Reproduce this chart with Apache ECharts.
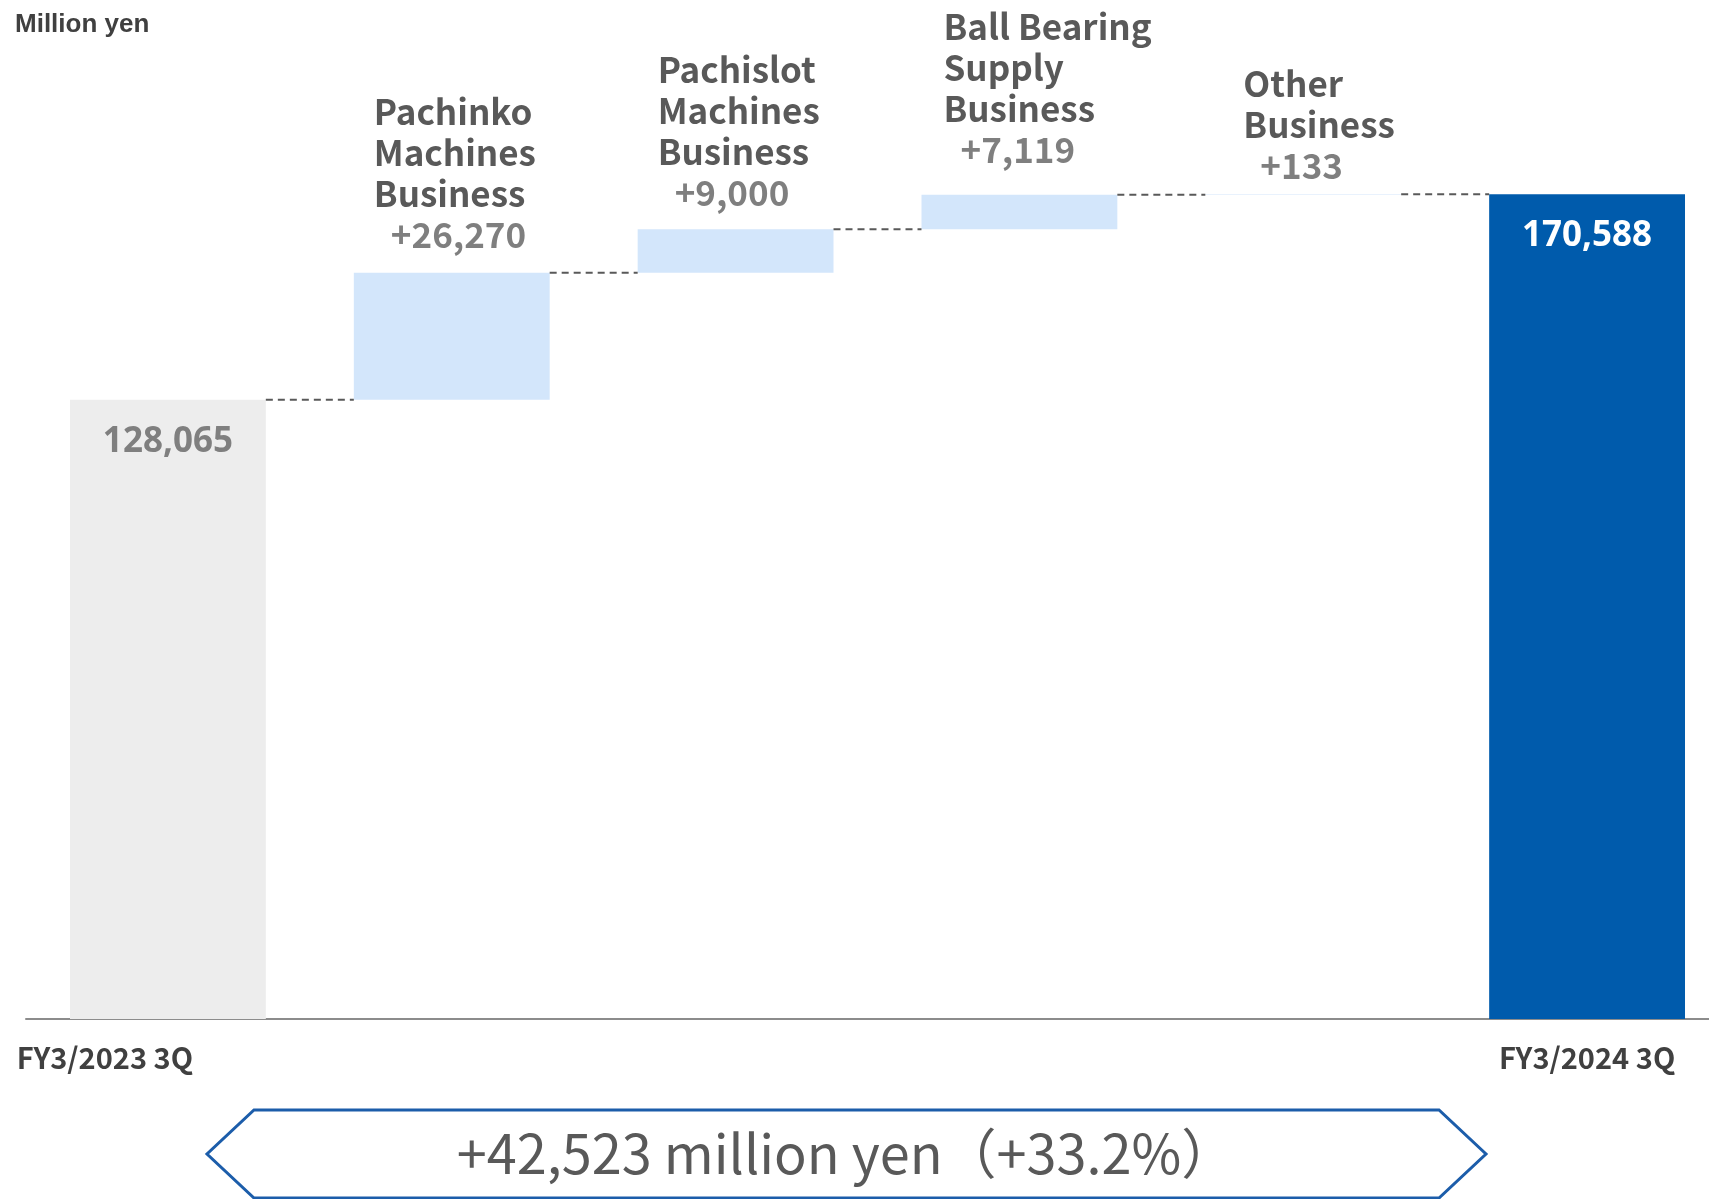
<!DOCTYPE html>
<html>
<head>
<meta charset="utf-8">
<title>Net sales bridge</title>
<script src="https://cdn.jsdelivr.net/npm/echarts@6/dist/echarts.min.js"></script>
<style>
  html, body { margin: 0; padding: 0; background: #ffffff; }
  #chart { width: 1709px; height: 1199px; }
</style>
</head>
<body>
<div id="chart"></div>
<script>
// Categories shown along the bridge (line breaks are part of the labels)
const categories = [
  'FY3/2023 3Q',
  'Pachinko\nMachines\nBusiness',
  'Pachislot\nMachines\nBusiness',
  'Ball Bearing\nSupply\nBusiness',
  'Other\nBusiness',
  'FY3/2024 3Q'
];
// Million yen
const startTotal = 128065;
const segmentChanges = [26270, 9000, 7119, 133];
const endTotal = 170588;

// Running levels: invisible base under each change bar
const baseValues = [0];
const levelsAfter = [startTotal];
let running = startTotal;
segmentChanges.forEach(function (d) {
  baseValues.push(running);
  running += d;
  levelsAfter.push(running);
});
baseValues.push(0);

const barValues = [startTotal].concat(segmentChanges, [endTotal]);
const fmt = function (v) { return v.toLocaleString('en-US'); };

const COLORS = {
  start: '#EDEDED',
  change: '#D3E6FB',
  end: '#005BAC'
};

const BAR_RATIO = 0.69;

// where each change label block sits relative to its bar's top-left corner
const changeLabelAnchor = {
  1: [20, -18],
  2: [20, -16],
  3: [22, -25],
  4: [38, -8]
};

const chart = echarts.init(document.getElementById('chart'), null, { renderer: 'canvas' });

const totalLabel = {
  show: true,
  position: 'insideTop',
  distance: 21,
  align: 'center',
  verticalAlign: 'top',
  fontFamily: 'Noto Sans',
  fontWeight: 'bold',
  fontSize: 35,
  lineHeight: 42
};

const barData = barValues.map(function (v, i) {
  const last = barValues.length - 1;
  if (i === 0) {
    return { value: v, itemStyle: { color: COLORS.start },
      label: Object.assign({}, totalLabel, { color: '#7F7F7F' }) };
  }
  if (i === last) {
    return { value: v, itemStyle: { color: COLORS.end },
      label: Object.assign({}, totalLabel, { color: '#FFFFFF' }) };
  }
  return {
    value: v,
    itemStyle: { color: COLORS.change },
    label: { position: changeLabelAnchor[i] }
  };
});

const changeAbs = endTotal - startTotal;
const changePct = (changeAbs / startTotal * 100).toFixed(1);

chart.setOption({
  animation: false,
  backgroundColor: '#ffffff',
  grid: { left: 26, right: -20, top: 52, bottom: 180, containLabel: false, outerBoundsMode: 'none' },
  xAxis: {
    type: 'category',
    data: categories,
    axisTick: { show: false },
    axisLine: { show: true, lineStyle: { color: '#8C8C8C', width: 2 } },
    axisLabel: {
      interval: 0,
      margin: 24,
      formatter: function (value, idx) {
        if (idx === 0) return '{first|' + value + '}';
        if (idx === categories.length - 1) return '{last|' + value + '}';
        return '';
      },
      rich: {
        first: { fontFamily: 'Noto Sans CJK JP', fontWeight: 'bold', fontSize: 29, color: '#404040', padding: [0, 126, 0, 0] },
        last: { fontFamily: 'Noto Sans CJK JP', fontWeight: 'bold', fontSize: 29, color: '#404040' }
      }
    }
  },
  yAxis: { type: 'value', min: 0, max: 200000, show: false, splitLine: { show: false } },
  series: [
    {
      name: 'base',
      type: 'bar',
      stack: 'bridge',
      barWidth: (BAR_RATIO * 100) + '%',
      itemStyle: { color: 'transparent' },
      emphasis: { disabled: true },
      data: baseValues
    },
    {
      name: 'amount',
      type: 'bar',
      stack: 'bridge',
      barWidth: (BAR_RATIO * 100) + '%',
      emphasis: { disabled: true },
      label: {
        show: true,
        align: 'left',
        verticalAlign: 'bottom',
        formatter: function (p) {
          const i = p.dataIndex;
          if (i === 0 || i === barValues.length - 1) return fmt(p.value);
          return '{name|' + categories[i] + '}\n{val|+' + fmt(p.value) + '}';
        },
        rich: {
          name: { fontFamily: 'Noto Sans CJK JP', fontWeight: 'bold', fontSize: 35, lineHeight: 41, color: '#595959' },
          val: { fontFamily: 'Noto Sans CJK JP', fontWeight: 'bold', fontSize: 35, lineHeight: 41, color: '#7F7F7F', padding: [0, 0, 0, 17] }
        }
      },
      data: barData
    },
    {
      // dashed connectors between neighbouring bars
      name: 'connector',
      type: 'custom',
      silent: true,
      z: 5,
      data: levelsAfter.map(function (lv, i) { return [i, lv]; }),
      renderItem: function (params, api) {
        const p = api.coord([api.value(0), api.value(1)]);
        const w = api.size([1, 0])[0];
        const half = w * BAR_RATIO / 2;
        return {
          type: 'line',
          shape: { x1: p[0] + half, y1: p[1], x2: p[0] + w - half, y2: p[1] },
          style: { stroke: '#595959', lineWidth: 2, lineDash: [7, 5] }
        };
      }
    }
  ],
  graphic: [
    {
      type: 'text',
      left: 15,
      top: 12,
      style: { text: 'Million yen', fontFamily: 'Liberation Sans', fontWeight: 'bold', fontSize: 26, fill: '#404040' }
    },
    {
      type: 'polygon',
      shape: { points: [[254, 1110], [1439, 1110], [1486, 1154], [1439, 1198], [254, 1198], [207, 1154]] },
      style: { fill: '#ffffff', stroke: '#1C5DAA', lineWidth: 3 }
    },
    {
      type: 'text',
      x: 846,
      y: 1153,
      style: {
        text: '+' + fmt(changeAbs) + ' million yen（+' + changePct + '%）',
        fontFamily: 'Noto Sans CJK JP',
        fontSize: 54,
        fill: '#595959',
        align: 'center',
        verticalAlign: 'middle'
      }
    }
  ]
});
</script>
</body>
</html>
